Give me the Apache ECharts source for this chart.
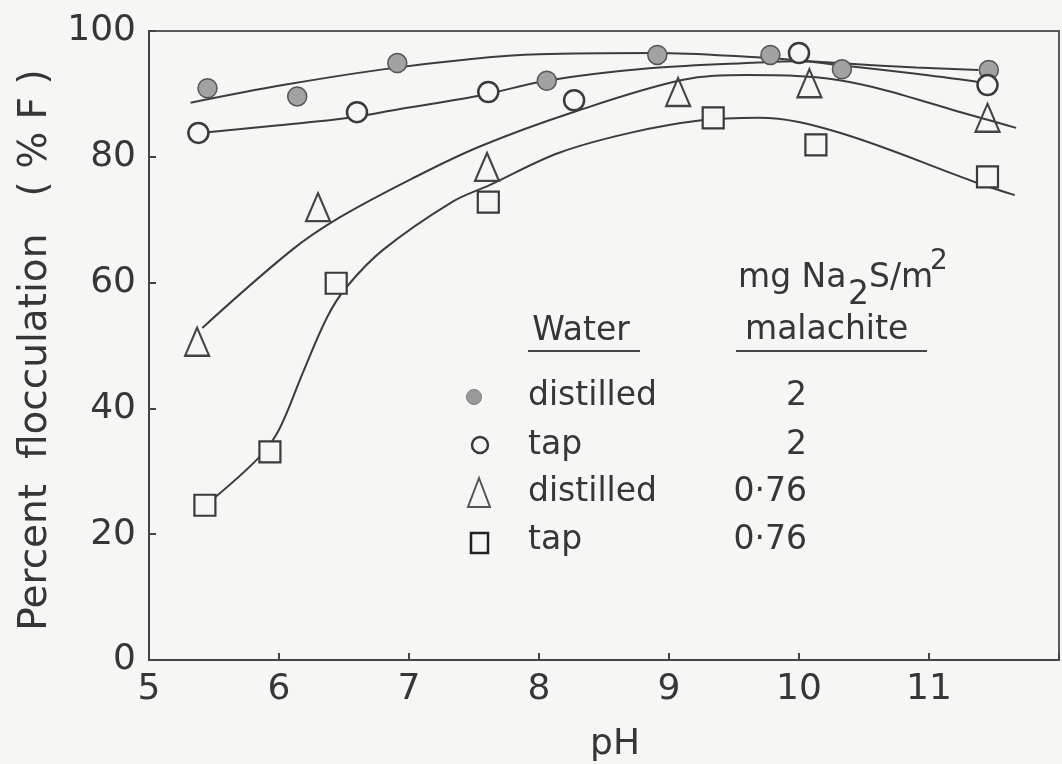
<!DOCTYPE html>
<html>
<head>
<meta charset="utf-8">
<script src="https://cdn.jsdelivr.net/npm/echarts@6/dist/echarts.min.js"></script>
<style>
  html, body { margin: 0; padding: 0; background: #f6f6f4; }
  #chart { width: 1062px; height: 764px; }
</style>
</head>
<body>
<div id="chart"></div>
<script>
// Measured points: [pH, percent flocculation]
const distilled2   = [[5.45, 90.9], [6.14, 89.6], [6.91, 94.9], [8.06, 92.1], [8.91, 96.2], [9.78, 96.2], [10.33, 93.9], [11.46, 93.8]];
const tap2         = [[5.38, 83.8], [6.60, 87.1], [7.61, 90.3], [8.27, 89.0], [10.00, 96.5], [11.45, 91.4]];
const distilled076 = [[5.37, 50.6], [6.30, 72.0], [7.60, 78.4], [9.07, 90.3], [10.08, 91.7], [11.45, 86.2]];
const tap076       = [[5.43, 24.6], [5.93, 33.1], [6.44, 59.9], [7.61, 72.8], [9.34, 86.2], [10.13, 81.9], [11.45, 76.8]];

// Hand-drawn trend curves through each set
const fitDistilled2   = [[5.32, 88.6], [6.03, 91.4], [6.80, 93.9], [7.50, 95.6], [8.00, 96.3], [8.90, 96.5], [9.60, 95.9], [10.30, 94.9], [10.90, 94.2], [11.38, 93.8]];
const fitTap2         = [[5.45, 83.9], [6.00, 85.0], [6.54, 86.2], [6.93, 87.6], [7.54, 89.7], [8.06, 92.1], [8.87, 94.1], [9.69, 95.0], [10.00, 95.2], [10.30, 94.6], [10.90, 93.2], [11.38, 91.9]];
const fitDistilled076 = [[5.41, 52.8], [6.10, 65.2], [6.47, 70.4], [7.03, 76.6], [7.54, 81.6], [8.25, 87.0], [9.10, 92.2], [9.60, 93.0], [10.30, 92.2], [11.38, 86.3], [11.67, 84.6]];
const fitTap076       = [[5.51, 25.9], [5.85, 32.3], [6.00, 36.6], [6.18, 45.5], [6.37, 54.5], [6.52, 59.3], [6.80, 65.2], [7.33, 72.8], [7.62, 75.5], [8.15, 80.6], [8.70, 83.8], [9.25, 85.8], [9.69, 86.2], [10.30, 83.9], [11.38, 75.8], [11.66, 73.9]];

// Axis ticks
const xTicks = [5, 6, 7, 8, 9, 10, 11];
const yTicks = [0, 20, 40, 60, 80, 100];

// Legend table
const legendHeaders = ['Water', 'malachite'];
const legendWater = ['distilled', 'tap', 'distilled', 'tap'];
const legendDose = ['2', '2', '0·76', '0·76'];

const FONT = '"DejaVu Sans", sans-serif';
const INK = '#363636';
const LINE = '#3c3c3c';

const chart = echarts.init(document.getElementById('chart'), null, { renderer: 'canvas' });

function curve(data) {
  return {
    type: 'line', data: data, smooth: 0.35, showSymbol: false, symbol: 'none',
    lineStyle: { color: LINE, width: 2 }, z: 2, silent: true
  };
}

const rowY = [396, 445, 492, 540];
const g = [];
g.push(
  { type: 'text', style: { text: legendHeaders[0], x: 581, y: 331, font: '33px ' + FONT, fill: INK, align: 'center', verticalAlign: 'middle' } },
  { type: 'line', shape: { x1: 528, y1: 351, x2: 640, y2: 351 }, style: { stroke: '#444', lineWidth: 2 } },
  { type: 'text', style: { text: legendHeaders[1], x: 745, y: 330, font: '33px ' + FONT, fill: INK, align: 'left', verticalAlign: 'middle' } },
  { type: 'line', shape: { x1: 736, y1: 351, x2: 927, y2: 351 }, style: { stroke: '#444', lineWidth: 2 } },
  { type: 'text', style: { text: 'mg Na', x: 738, y: 278, font: '33px ' + FONT, fill: INK, align: 'left', verticalAlign: 'middle' } },
  { type: 'text', style: { text: '2', x: 848, y: 295, font: '33px ' + FONT, fill: INK, align: 'left', verticalAlign: 'middle' } },
  { type: 'text', style: { text: 'S/m', x: 869, y: 278, font: '33px ' + FONT, fill: INK, align: 'left', verticalAlign: 'middle' } },
  { type: 'text', style: { text: '2', x: 930, y: 262, font: '28px ' + FONT, fill: INK, align: 'left', verticalAlign: 'middle' } }
);
legendWater.forEach(function (w, i) {
  g.push({ type: 'text', style: { text: w, x: 528, y: rowY[i], font: '33px ' + FONT, fill: INK, align: 'left', verticalAlign: 'middle' } });
  g.push({ type: 'text', style: { text: legendDose[i], x: 807, y: rowY[i], font: '33px ' + FONT, fill: INK, align: 'right', verticalAlign: 'middle' } });
});
g.push(
  { type: 'circle', shape: { cx: 474, cy: 397, r: 7.5 }, style: { fill: '#9a9a9a', stroke: '#7a7a7a', lineWidth: 1 } },
  { type: 'circle', shape: { cx: 480, cy: 445, r: 8 }, style: { fill: 'none', stroke: '#3a3a3a', lineWidth: 2.5 } },
  { type: 'polygon', shape: { points: [[468, 507], [490, 507], [479, 478]] }, style: { fill: 'none', stroke: '#555', lineWidth: 2 } },
  { type: 'rect', shape: { x: 471, y: 533, width: 17, height: 20 }, style: { fill: 'none', stroke: '#222', lineWidth: 2.5 } }
);
// Axis titles
g.push(
  { type: 'text', rotation: Math.PI / 2, x: 36, y: 350, style: { text: 'Percent  flocculation   ( % F )', font: '39px ' + FONT, fill: INK, align: 'center', verticalAlign: 'middle' } },
  { type: 'text', style: { text: 'pH', x: 615, y: 745, font: '36px ' + FONT, fill: INK, align: 'center', verticalAlign: 'middle' } }
);

const option = {
  backgroundColor: '#f6f6f4',
  animation: false,
  grid: { left: 149, top: 31, right: 1, bottom: 104, show: true, borderColor: '#5a5a5a', borderWidth: 2, backgroundColor: 'transparent' },
  xAxis: {
    type: 'value', min: 5, max: 12, interval: 1,
    axisLine: { show: true, onZero: false, lineStyle: { color: '#444', width: 2 } },
    axisTick: { show: true, inside: true, length: 7, lineStyle: { color: '#444', width: 2 } },
    axisLabel: {
      fontFamily: FONT, fontSize: 36, color: INK, margin: 12,
      formatter: function (v) { return xTicks.indexOf(v) >= 0 ? String(v) : ''; }
    },
    splitLine: { show: false }
  },
  yAxis: {
    type: 'value', min: 0, max: 100, interval: 20,
    axisLine: { show: true, lineStyle: { color: '#444', width: 2 } },
    axisTick: { show: true, inside: true, length: 7, lineStyle: { color: '#444', width: 2 } },
    axisLabel: {
      fontFamily: FONT, fontSize: 36, color: INK, margin: 13,
      formatter: function (v) { return yTicks.indexOf(v) >= 0 ? String(v) : ''; }
    },
    splitLine: { show: false }
  },
  series: [
    curve(fitDistilled2),
    curve(fitTap2),
    curve(fitDistilled076),
    curve(fitTap076),
    {
      type: 'scatter', data: distilled2, symbol: 'circle', symbolSize: 19, z: 4,
      itemStyle: { color: '#a2a2a2', borderColor: '#555', borderWidth: 1.5, opacity: 1 }
    },
    {
      type: 'scatter', data: tap2, symbol: 'circle', symbolSize: 20, z: 4,
      itemStyle: { color: '#f6f6f4', borderColor: '#3a3a3a', borderWidth: 2.5, opacity: 1 }
    },
    {
      type: 'scatter', data: distilled076, symbol: 'triangle', symbolSize: [24, 28], z: 4,
      itemStyle: { color: 'rgba(246,246,244,0)', borderColor: '#444', borderWidth: 2.2, opacity: 1 }
    },
    {
      type: 'scatter', data: tap076, symbol: 'rect', symbolSize: 21, z: 4,
      itemStyle: { color: '#f6f6f4', borderColor: '#3a3a3a', borderWidth: 2.2, opacity: 1 }
    }
  ],
  graphic: g
};

chart.setOption(option);
</script>
</body>
</html>
